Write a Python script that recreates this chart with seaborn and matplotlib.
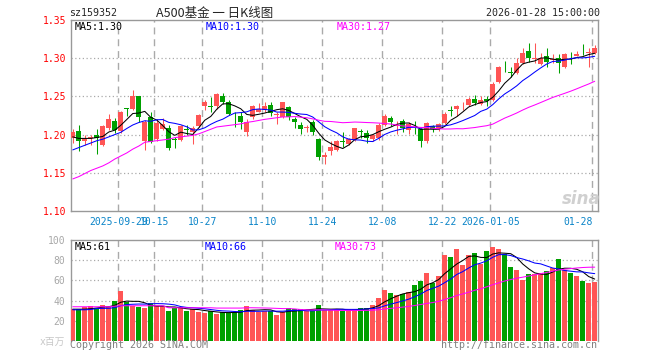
import matplotlib
matplotlib.use("Agg")
import numpy as np
import pandas as pd
import matplotlib.pyplot as plt
import seaborn as sns

# daily candles, 2025-09-17 .. 2026-01-28 (88 trading days)
opens = [1.195, 1.205, 1.192, 1.195, 1.199, 1.187, 1.209, 1.218, 1.205, 1.235,
         1.234, 1.250, 1.191, 1.223, 1.194, 1.207, 1.208, 1.194, 1.193, 1.207,
         1.204, 1.211, 1.238, 1.238, 1.237, 1.250, 1.243, 1.230, 1.224, 1.204,
         1.223, 1.230, 1.232, 1.239, 1.226, 1.223, 1.236, 1.221, 1.213, 1.208,
         1.217, 1.194, 1.171, 1.178, 1.180, 1.192, 1.188, 1.193, 1.205, 1.202,
         1.194, 1.195, 1.213, 1.222, 1.211, 1.218, 1.206, 1.209, 1.207, 1.191,
         1.211, 1.207, 1.215, 1.232, 1.233, 1.237, 1.239, 1.247, 1.240, 1.247,
         1.245, 1.269, 1.293, 1.282, 1.280, 1.294, 1.309, 1.299, 1.293, 1.303,
         1.298, 1.300, 1.288, 1.302, 1.303, 1.306, 1.307, 1.307]
closes = [1.204, 1.191, 1.194, 1.197, 1.195, 1.211, 1.220, 1.206, 1.229, 1.233,
          1.250, 1.223, 1.217, 1.190, 1.215, 1.214, 1.183, 1.193, 1.211, 1.206,
          1.208, 1.226, 1.243, 1.236, 1.253, 1.243, 1.227, 1.229, 1.217, 1.216,
          1.237, 1.234, 1.237, 1.228, 1.227, 1.243, 1.223, 1.217, 1.207, 1.210,
          1.204, 1.171, 1.173, 1.184, 1.191, 1.190, 1.194, 1.208, 1.203, 1.195,
          1.200, 1.213, 1.224, 1.217, 1.213, 1.208, 1.214, 1.208, 1.191, 1.215,
          1.207, 1.214, 1.227, 1.231, 1.238, 1.238, 1.247, 1.242, 1.245, 1.244,
          1.266, 1.289, 1.292, 1.281, 1.294, 1.307, 1.300, 1.300, 1.300, 1.295,
          1.299, 1.294, 1.305, 1.301, 1.305, 1.305, 1.308, 1.313]
highs = [1.207, 1.213, 1.199, 1.199, 1.207, 1.213, 1.227, 1.222, 1.231, 1.235,
         1.258, 1.250, 1.219, 1.230, 1.221, 1.222, 1.213, 1.197, 1.213, 1.212,
         1.211, 1.227, 1.245, 1.249, 1.255, 1.255, 1.245, 1.230, 1.229, 1.221,
         1.239, 1.242, 1.243, 1.243, 1.229, 1.243, 1.237, 1.223, 1.216, 1.213,
         1.219, 1.195, 1.177, 1.191, 1.193, 1.203, 1.195, 1.208, 1.207, 1.206,
         1.201, 1.215, 1.227, 1.224, 1.218, 1.220, 1.216, 1.218, 1.208, 1.217,
         1.213, 1.215, 1.229, 1.237, 1.239, 1.243, 1.249, 1.252, 1.250, 1.250,
         1.269, 1.290, 1.296, 1.289, 1.300, 1.313, 1.320, 1.320, 1.307, 1.314,
         1.306, 1.306, 1.307, 1.308, 1.309, 1.319, 1.314, 1.317]
lows = [1.189, 1.178, 1.187, 1.186, 1.175, 1.185, 1.206, 1.202, 1.202, 1.225,
        1.232, 1.217, 1.180, 1.189, 1.191, 1.206, 1.180, 1.183, 1.191, 1.200,
        1.188, 1.210, 1.232, 1.230, 1.234, 1.240, 1.226, 1.210, 1.207, 1.198,
        1.221, 1.229, 1.230, 1.224, 1.214, 1.222, 1.219, 1.208, 1.201, 1.203,
        1.200, 1.167, 1.161, 1.173, 1.179, 1.184, 1.187, 1.192, 1.196, 1.189,
        1.191, 1.193, 1.211, 1.211, 1.201, 1.203, 1.201, 1.201, 1.184, 1.189,
        1.204, 1.205, 1.214, 1.225, 1.225, 1.232, 1.238, 1.239, 1.239, 1.237,
        1.244, 1.268, 1.282, 1.275, 1.279, 1.293, 1.295, 1.294, 1.291, 1.288,
        1.294, 1.281, 1.287, 1.293, 1.303, 1.304, 1.289, 1.306]
# volume, x 1,000,000
volumes = [31.6, 31.6, 33.3, 34.3, 32.6, 35.6, 33.9, 39.9, 49.9, 38.3,
           34.3, 33.9, 32.6, 37.6, 34.3, 34.3, 29.9, 32.3, 33.3, 29.9,
           31.6, 28.3, 27.6, 29.9, 26.6, 28.9, 27.6, 28.3, 30.9, 34.9,
           30.9, 28.3, 29.9, 29.9, 25.6, 28.9, 32.6, 31.6, 31.6, 29.9,
           30.9, 35.6, 30.6, 30.6, 30.6, 29.9, 31.6, 31.6, 32.6, 32.6,
           35.6, 42.6, 50.6, 47.6, 45.6, 46.6, 48.9, 55.6, 59.6, 66.9,
           57.6, 64.6, 84.9, 83.3, 90.6, 74.9, 84.9, 87.6, 75.9, 89.6,
           92.6, 90.6, 85.9, 73.6, 70.6, 60.6, 66.6, 65.9, 67.6, 68.9,
           72.3, 80.9, 70.6, 67.3, 63.9, 59.9, 57.3, 58.3]

# moving averages before the window is full (they use days left of the chart)
ma5_head = [1.197, 1.195, 1.195, 1.195]
ma10_head = [1.180, 1.183, 1.186, 1.189, 1.192, 1.194, 1.197, 1.200, 1.203]
ma30_head = [1.142, 1.145, 1.149, 1.153, 1.156, 1.159, 1.163, 1.168, 1.172, 1.176,
             1.181, 1.185, 1.190, 1.191, 1.192, 1.193, 1.194, 1.196, 1.197, 1.198,
             1.199, 1.201, 1.204, 1.207, 1.210, 1.211, 1.212, 1.213, 1.214]
vma5_head = [31.5, 31.5, 31.5, 32.0]
vma10_head = [30.9, 30.9, 30.9, 31.2, 32.2, 32.3, 32.4, 33.0, 35.0]
vma30_head = [33.9, 33.9, 33.9, 33.9, 33.9, 33.9, 33.9, 34.5, 34.9, 34.9,
              34.9, 34.9, 34.9, 34.9, 34.9, 34.9, 32.9, 32.9, 32.9, 32.9,
              32.9, 32.9, 32.9, 32.9, 32.6, 32.6, 32.6, 32.6, 32.6]

tick_bars = [8, 14, 22, 32, 42, 52, 62, 70, 87]
tick_labels = ["2025-09-29", "10-15", "10-27", "11-10", "11-24",
               "12-08", "12-22", "2026-01-05", "01-28"]

RED = "#ff5555"
GREEN = "#00a000"
GRID = "#aaaaaa"
MONO = ["DejaVu Sans Mono", "Noto Sans CJK SC"]

df = pd.DataFrame({"open": opens, "close": closes, "high": highs,
                   "low": lows, "vol": volumes})
df["idx"] = np.arange(len(df))
df["dir"] = np.where(df["close"] >= df["open"], "up", "down")


def moving(series, n, head):
    m = series.rolling(n).mean()
    m.iloc[:len(head)] = head
    return m


df["ma5"] = moving(df["close"], 5, ma5_head)
df["ma10"] = moving(df["close"], 10, ma10_head)
df["ma30"] = moving(df["close"], 30, ma30_head)
df["vma5"] = moving(df["vol"], 5, vma5_head)
df["vma10"] = moving(df["vol"], 10, vma10_head)
df["vma30"] = moving(df["vol"], 30, vma30_head)

sns.set_style("white")
plt.rcParams["font.family"] = MONO

W, H = 660, 360
fig = plt.figure(figsize=(W / 100, H / 100), dpi=100)
ax = fig.add_axes([71 / W, 1 - 211 / H, 527 / W, 191 / H])
axv = fig.add_axes([71 / W, 1 - 341 / H, 527 / W, 101 / H])

colors = df["dir"].map({"up": RED, "down": GREEN})

# candles
ax.vlines(df["idx"], df["low"], df["high"], colors=colors, lw=0.75, zorder=3)
body_lo = df[["open", "close"]].min(axis=1)
body_h = (df["close"] - df["open"]).abs().clip(lower=0.0009)
ax.bar(df["idx"], body_h, bottom=body_lo, width=0.85, color=colors, lw=0, zorder=4)

for col, c in [("ma5", "black"), ("ma10", "#0000ff"), ("ma30", "#ff00ff")]:
    sns.lineplot(data=df, x="idx", y=col, color=c, lw=0.75, ax=ax, zorder=5)

# volume
sns.barplot(data=df, x="idx", y="vol", hue="dir", palette={"up": RED, "down": GREEN},
            native_scale=True, dodge=False, width=0.85, saturation=1,
            legend=False, linewidth=0, ax=axv, zorder=3)
for col, c in [("vma5", "black"), ("vma10", "#0000ff"), ("vma30", "#ff00ff")]:
    sns.lineplot(data=df, x="idx", y=col, color=c, lw=0.75, ax=axv, zorder=5)

for a in (ax, axv):
    a.set_xlim(-0.3, 87.55)
    a.set_xlabel("")
    a.set_ylabel("")
    for s in a.spines.values():
        s.set_color("#999999")
        s.set_linewidth(1.0)
    for b in tick_bars:
        a.axvline(b - 0.4, color=GRID, lw=1.0, ls=(0, (5, 3.5)), zorder=1)

ax.set_ylim(1.10, 1.35)
for y in [1.15, 1.20, 1.25, 1.30]:
    ax.axhline(y, color=GRID, lw=0.9, ls=(0, (1, 2)), zorder=1)
ax.set_yticks([1.10, 1.15, 1.20, 1.25, 1.30, 1.35],
              ["1.10", "1.15", "1.20", "1.25", "1.30", "1.35"])
ax.tick_params(axis="y", length=0, pad=3.6, labelsize=7, labelcolor="#ff0000")
ax.set_xticks([b - 0.4 for b in tick_bars], tick_labels)
ax.tick_params(axis="x", length=0, pad=4, labelsize=7, labelcolor="#0a84c8")
ax.get_xticklabels()[-1].set_horizontalalignment("right")

axv.set_ylim(0, 100)
for y in [20, 40, 60, 80]:
    axv.axhline(y, color=GRID, lw=0.9, ls=(0, (1, 2)), zorder=1)
axv.set_yticks([0, 20, 40, 60, 80, 100], ["x百万", "20", "40", "60", "80", "100"])
axv.tick_params(axis="y", length=0, pad=4, labelsize=7, labelcolor="#a8a8a8")
axv.set_xticks([])
axv.spines["bottom"].set_visible(False)
for t in axv.get_yticklabels():
    t.set_fontfamily(MONO)
axv.get_yticklabels()[0].set_color("#c8c8c8")


def ptext(x, y, s, **kw):
    kw.setdefault("va", "center")
    kw.setdefault("fontsize", 7.2)
    fig.text(x / W, 1 - y / H, s, **kw)


ptext(69.5, 13.5, "sz159352")
ptext(215, 13.5, "A500基金 一 日K线图", ha="center", fontsize=9,
      family=["Noto Sans CJK SC", "DejaVu Sans"])
ptext(600, 13.5, "2026-01-28 15:00:00", ha="right")

ptext(74.5, 26.7, "MA5:1.30", color="black")
ptext(205.5, 26.7, "MA10:1.30", color="#0000ff")
ptext(337, 26.7, "MA30:1.27", color="#ff00ff")
ptext(75, 246.7, "MA5:61", color="black")
ptext(205, 246.7, "MA10:66", color="#0000ff")
ptext(335, 246.7, "MA30:73", color="#ff00ff")

ptext(70, 345.5, "Copyright 2026 SINA.COM", color="#808080")
ptext(597, 345.5, "http://finance.sina.com.cn", ha="right", color="#808080")
ptext(581, 199, "sina", ha="center", fontsize=12, color="#d0d0d0",
      fontweight="bold", fontstyle="italic", family="DejaVu Sans")

fig.savefig("out.png", dpi=100)
